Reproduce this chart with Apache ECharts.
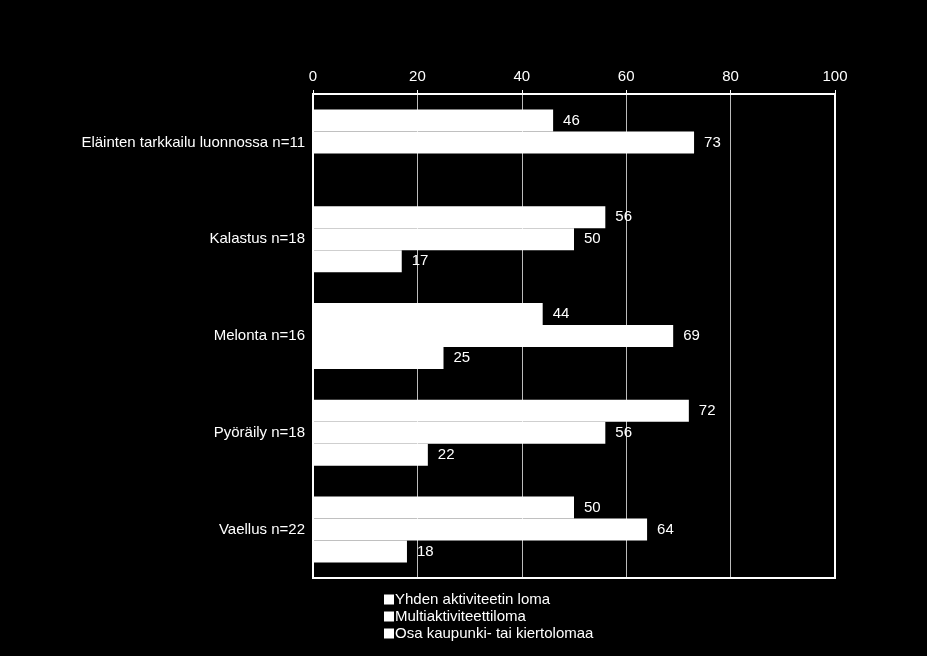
<!DOCTYPE html>
<html><head><meta charset="utf-8">
<script src="https://cdn.jsdelivr.net/npm/echarts@6/dist/echarts.min.js"></script>
<style>html,body{margin:0;background:#000}#c{width:927px;height:656px}</style>
</head><body><div id="c"></div>
<script>
const categories = ['Eläinten tarkkailu luonnossa n=11','Kalastus n=18','Melonta n=16','Pyöräily n=18','Vaellus n=22'];
const seriesNames = ['Yhden aktiviteetin loma','Multiaktiviteettiloma','Osa kaupunki- tai kiertolomaa'];
const yhden = [46,56,44,72,50];
const multi = [73,50,69,56,64];
const osa = [null,17,25,22,18];
const xTicks = [0,20,40,60,80,100];

const font = 'Liberation Sans, Arial, sans-serif';
const chart = echarts.init(document.getElementById('c'));
const mk = (name, data) => ({
  name, type: 'bar', data, barWidth: 22, barGap: '0%',
  itemStyle: {color: '#fff'},
  label: {show: true, position: 'right', color: '#fff', fontSize: 15, fontFamily: font, distance: 10},
  animation: false
});
chart.setOption({
  backgroundColor: '#000',
  grid: {left: 313, right: 92, top: 94, bottom: 78},
  xAxis: {type: 'value', position: 'top', min: xTicks[0], max: xTicks[xTicks.length-1], interval: 20,
    axisLine: {show: true, lineStyle: {color: '#fff', width: 2}},
    axisTick: {show: true, lineStyle: {color: '#fff'}, length: 4},
    axisLabel: {color: '#fff', fontSize: 15, fontFamily: font, margin: 10},
    splitLine: {lineStyle: {color: '#bbb', width: 1}}},
  yAxis: {type: 'category', data: categories, inverse: true,
    axisLine: {show: true, lineStyle: {color: '#fff', width: 2}},
    axisTick: {show: false},
    axisLabel: {color: '#fff', fontSize: 15, fontFamily: font, margin: 8}},
  legend: {orient: 'vertical', left: 379, top: 587, itemGap: 2, itemWidth: 10, itemHeight: 10, icon: 'rect',
    textStyle: {color: '#fff', fontSize: 15, fontFamily: font, padding: [0,0,0,-4]}, data: seriesNames},
  graphic: [{type: 'rect', shape: {x: 313, y: 94, width: 522, height: 484}, style: {fill: null, stroke: '#fff', lineWidth: 2}, silent: true, z: 10}],
  series: [mk(seriesNames[0], yhden), mk(seriesNames[1], multi), mk(seriesNames[2], osa)]
});
</script></body></html>
